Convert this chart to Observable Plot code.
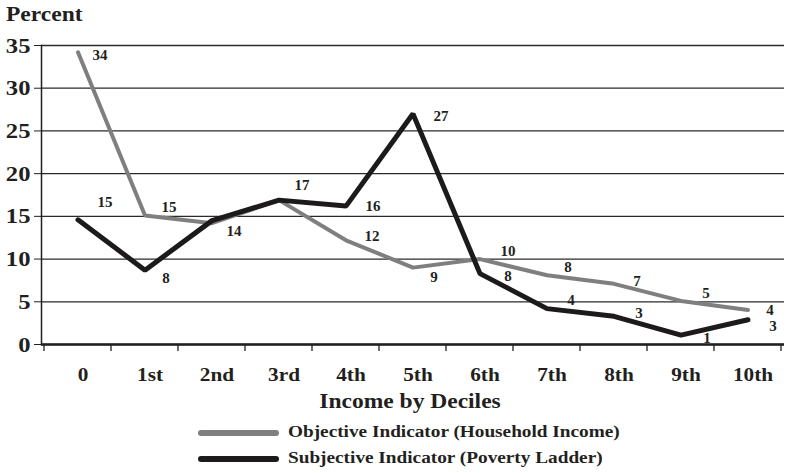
<!DOCTYPE html>
<html>
<head>
<meta charset="utf-8">
<script src="https://cdn.jsdelivr.net/npm/d3@7"></script>
<script src="https://cdn.jsdelivr.net/npm/@observablehq/plot@0.6"></script>
<style>
  html, body { margin: 0; padding: 0; background: #fff; }
  #chart svg { display: block; }
</style>
</head>
<body>
<div id="chart"></div>
<script>
// ---- data ----
const categories = ["0", "1st", "2nd", "3rd", "4th", "5th", "6th", "7th", "8th", "9th", "10th"];
const objective  = [34.2, 15.1, 14.2, 16.9, 12.2, 9.0, 10.0, 8.1, 7.1, 5.1, 4.05];
const subjective = [14.6, 8.7, 14.5, 16.9, 16.2, 27.0, 8.3, 4.2, 3.3, 1.1, 2.9];
const objectiveLabels  = ["34", "15", "14", "17", "12", "9", "10", "8", "7", "5", "4"];
const subjectiveLabels = ["15", "8", null, null, "16", "27", "8", "4", "3", "1", "3"];
const yTicks = [0, 5, 10, 15, 20, 25, 30, 35];
const seriesNames = ["Objective Indicator (Household Income)", "Subjective Indicator (Poverty Ladder)"];

// label nudges (pixels)
const objDx  = [22, 24, 22, 23, 26, 21, 28, 21, 23, 25, 22];
const objDy  = [3, -8, 8, -15, -4, 10, -8, -8, -3, -8, 0];
const subjDx = [27, 21, 0, 0, 27, 28, 28, 24, 25, 26, 25];
const subjDy = [-18, 8, 0, 0, 0, 2, 3, -8, -3, 3, 6];

const GRAY = "#7f7f7f", BLACK = "#1c1a1b", INK = "#231f20";
const FONT = "'Liberation Serif', 'Times New Roman', serif";

const objRows = categories.map((c, i) => ({cat: c, value: objective[i], label: objectiveLabels[i]}));
const subjRows = categories.map((c, i) => ({cat: c, value: subjective[i], label: subjectiveLabels[i]}));

const labelMarks = [];
objRows.forEach((d, i) => {
  if (d.label) labelMarks.push(Plot.text([d], {x: "cat", y: "value", text: "label", dx: objDx[i], dy: objDy[i],
    fontSize: 15, fontWeight: "bold", fill: INK}));
});
subjRows.forEach((d, i) => {
  if (d.label) labelMarks.push(Plot.text([d], {x: "cat", y: "value", text: "label", dx: subjDx[i], dy: subjDy[i],
    fontSize: 15, fontWeight: "bold", fill: INK}));
});

const chart = Plot.plot({
  width: 790,
  height: 473,
  marginLeft: 41,
  marginRight: 6,
  marginTop: 45,
  marginBottom: 129,
  style: {fontFamily: FONT, color: INK, background: "#fff"},
  x: {type: "band", domain: categories, padding: 0},
  y: {domain: [0, 35]},
  marks: [
    Plot.gridY(yTicks, {stroke: "#2a2a2a", strokeOpacity: 1, strokeWidth: 1.3}),
    Plot.axisY(yTicks, {tickSize: 7, tickPadding: 4, fontSize: 22, fontWeight: "bold", label: null, stroke: INK, fill: INK}),
    Plot.axisX({tickSize: 0, tickPadding: 23, fontSize: 19, fontWeight: "bold", label: null, fill: INK, dx: 5}),
    Plot.frame({anchor: "left", stroke: INK, strokeWidth: 1.5}),
    Plot.line(objRows, {x: "cat", y: "value", stroke: GRAY, strokeWidth: 4, strokeLinejoin: "miter"}),
    Plot.line(subjRows, {x: "cat", y: "value", stroke: BLACK, strokeWidth: 5, strokeLinejoin: "miter"}),
    Plot.ruleY([0], {stroke: INK, strokeWidth: 2.5}),
    ...labelMarks
  ]
});

document.getElementById("chart").appendChild(chart);

// ---- decorations: x tick marks at band edges, title, axis label, legend ----
const svg = d3.select(chart);
const xs = chart.scale("x");
const ys = chart.scale("y");
const y0 = ys.apply(0);
const edges = categories.map(c => xs.apply(c)).concat([xs.apply(categories[categories.length - 1]) + xs.bandwidth]);
svg.append("g").selectAll("line").data(edges).join("line")
  .attr("x1", d => d).attr("x2", d => d)
  .attr("y1", y0).attr("y2", y0 + 7)
  .attr("stroke", INK).attr("stroke-width", 1.3);

function addText(txt, x, y, size, anchor) {
  svg.append("text")
    .attr("transform", `translate(${x},${y})`)
    .attr("text-anchor", anchor || "start")
    .attr("dominant-baseline", "middle")
    .attr("font-family", FONT)
    .attr("font-weight", "bold")
    .attr("font-size", size)
    .attr("fill", INK)
    .text(txt);
}
addText("Percent", 6, 16, 21);
addText("Income by Deciles", 410, 403, 21, "middle");

const legendColors = [GRAY, BLACK];
const legendY = [433, 459];
seriesNames.forEach((name, i) => {
  svg.append("line")
    .attr("x1", 201).attr("x2", 276)
    .attr("y1", legendY[i]).attr("y2", legendY[i])
    .attr("stroke", legendColors[i]).attr("stroke-width", 6).attr("stroke-linecap", "round");
  addText(name, 288, legendY[i], 17.2);
});

// the reference's lettering is slightly wide: stretch the axis/legend text horizontally
svg.selectAll("text").each(function() {
  const el = d3.select(this);
  const fs = parseFloat(el.attr("font-size") || (this.parentNode.getAttribute && this.parentNode.getAttribute("font-size")) || 0);
  if (fs && fs < 16) return;
  const t = el.attr("transform");
  if (t) {
    el.attr("transform", t + " scale(1.12,1)");
  } else {
    const x = +el.attr("x") || 0, y = +el.attr("y") || 0;
    el.attr("transform", `translate(${x},${y}) scale(1.12,1) translate(${-x},${-y})`);
  }
});
</script>
</body>
</html>
